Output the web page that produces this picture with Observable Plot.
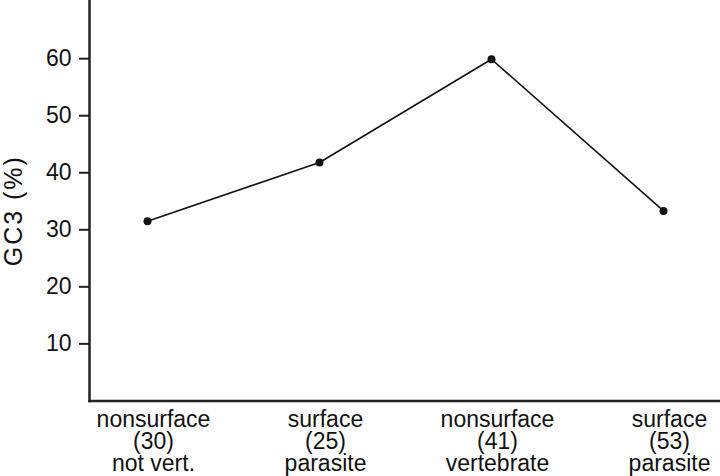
<!DOCTYPE html>
<html>
<head>
<meta charset="utf-8">
<script src="https://cdn.jsdelivr.net/npm/d3@7"></script>
<script src="https://cdn.jsdelivr.net/npm/@observablehq/plot@0.6"></script>
<style>
  html, body { margin: 0; padding: 0; background: #fff; }
  #chart svg { display: block; }
  #chart g[aria-label="text"] text { letter-spacing: 2px; }
</style>
</head>
<body>
<div id="chart"></div>
<script>
const groups = ["nonsurface", "surface", "nonsurface", "surface"];
const counts = [30, 25, 41, 53];
const hosts = ["not vert.", "parasite", "vertebrate", "parasite"];
const gc3 = [31.5, 41.8, 59.9, 33.3];
const yTicks = [10, 20, 30, 40, 50, 60];
const yLabel = "GC3 (%)";

const labels = groups.map((g, i) => `${g}\n(${counts[i]})\n${hosts[i]}`);
const data = labels.map((l, i) => ({label: l, value: gc3[i]}));

const chart = Plot.plot({
  width: 720,
  height: 476,
  marginLeft: 89,
  marginRight: 0,
  marginTop: 0,
  marginBottom: 75.6,
  style: {fontFamily: "Liberation Sans, Arial, sans-serif", fontSize: "23px", color: "#111", background: "#fff"},
  x: {type: "point", domain: labels, padding: 0.334},
  y: {domain: [0, 70.2]},
  marks: [
    Plot.frame({anchor: "left", stroke: "#222", strokeWidth: 2.5}),
    Plot.frame({anchor: "bottom", stroke: "#222", strokeWidth: 2.5}),
    Plot.axisY({ticks: yTicks, tickSize: 10, tickPadding: 8, strokeWidth: 2, stroke: "#222",
      label: null, fontSize: 23}),
    Plot.axisX({tickSize: 0, tickPadding: 11, label: null, lineHeight: 0.95, fontSize: 23, dx: 6}),
    Plot.text([yLabel], {frameAnchor: "left", textAnchor: "middle", lineAnchor: "middle", rotate: -90,
      dx: -76, dy: 10, fontSize: 25, fill: "#111"}),
    Plot.line(data, {x: "label", y: "value", stroke: "#111", strokeWidth: 1.6}),
    Plot.dot(data, {x: "label", y: "value", r: 4, fill: "#111", stroke: "none"})
  ]
});
document.getElementById("chart").appendChild(chart);
</script>
</body>
</html>
